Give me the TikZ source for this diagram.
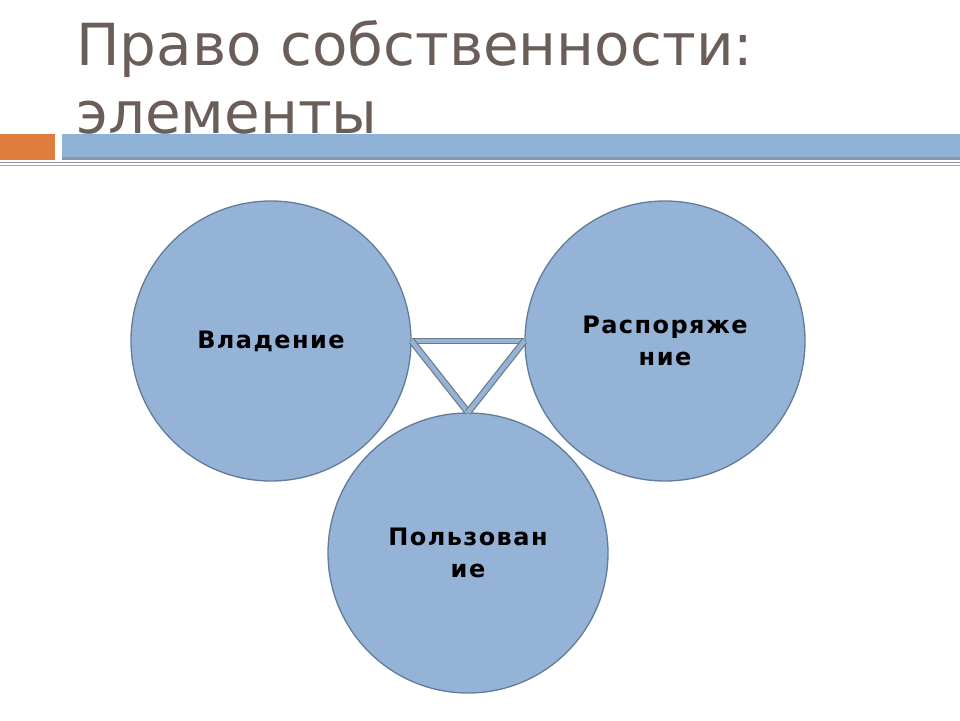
\documentclass[tikz,border=0pt]{standalone}
\usepackage{fontspec}
\setmainfont{DejaVu Sans}
\newfontfamily\circlefont[LetterSpace=6]{DejaVu Sans Bold}
\definecolor{titlebrown}{RGB}{107,94,88}
\definecolor{barorange}{RGB}{224,125,62}
\definecolor{barblue}{RGB}{141,178,213}
\definecolor{bargray}{RGB}{140,150,160}
\definecolor{circfill}{RGB}{149,179,215}
\definecolor{circedge}{RGB}{96,124,152}
\definecolor{linkedge}{RGB}{110,122,134}

\begin{document}
\begin{tikzpicture}[x=1pt,y=-1pt,
  every node/.style={inner sep=0pt},
  title/.style={anchor=base west,text=titlebrown,font=\fontsize{58}{68}\selectfont},
  circ/.style={circle,minimum size=280pt,draw=circedge,line width=1.3pt,
    fill=circfill,align=center,font=\circlefont\fontsize{24}{32}\selectfont},
  link/.style={draw=linkedge,line width=1.2pt,double=circfill,double distance=4.5pt}]
  \useasboundingbox (0,0) rectangle (960,720);
  \node[title] (t1) at (76,65) {Право собственности:};
  \node[title] (t2) at (76,133) {элементы};
  \fill[barorange] (0,134) rectangle (55,160);
  \fill[barblue] (62,134) rectangle (960,157);
  \fill[bargray] (62,157) rectangle (960,160);
  \draw[bargray,line width=1.8pt] (0,162.5) -- (960,162.5);
  \draw[bargray!80,line width=1.2pt] (0,165.8) -- (960,165.8);
  \node[circ] (vl) at (271,341) {Владение};
  \node[circ] (rs) at (665,341) {Распоряже\\ние};
  \node[circ] (pz) at (468,553) {Пользован\\ие};
  \draw[link] (vl.east) -- (rs.west);
  \draw[link] (vl.east) -- (pz.north);
  \draw[link] (rs.west) -- (pz.north);
\end{tikzpicture}
\end{document}
